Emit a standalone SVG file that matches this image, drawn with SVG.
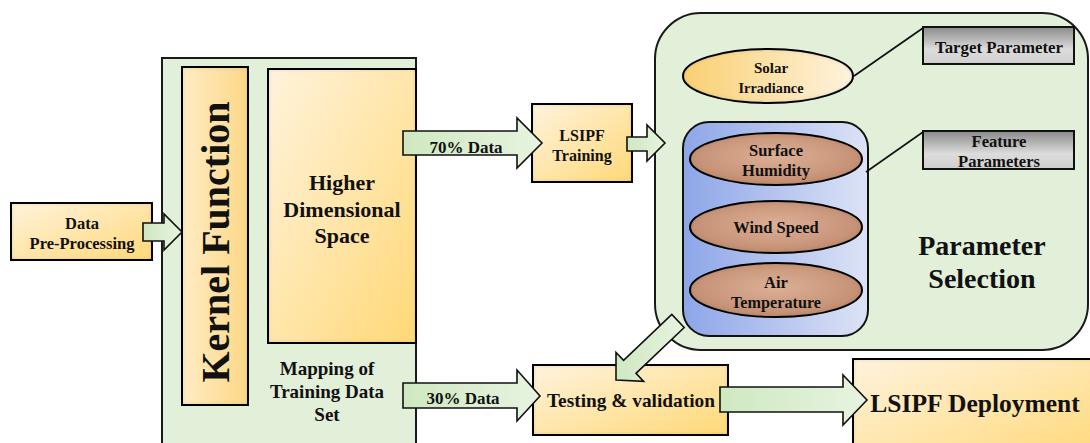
<svg xmlns="http://www.w3.org/2000/svg" width="1090" height="443" viewBox="0 0 1090 443">
  <defs>
    <style>
      .lbl { font-family: "Liberation Serif", "Times New Roman", serif; font-weight: bold; fill: #111; text-anchor: middle; dominant-baseline: central; }
      .panel { fill: #e2efd9; stroke: #1a1a1a; stroke-width: 2; }
      .box { stroke: #111; stroke-width: 2; }
      .arrow { fill: url(#gArrow); stroke: #111; stroke-width: 1.6; stroke-linejoin: miter; }
      .leader { stroke: #111; stroke-width: 1.6; fill: none; }
    </style>
    <linearGradient id="gOrange" x1="0" y1="0" x2="1" y2="1">
      <stop offset="0" stop-color="#fff3dd"/>
      <stop offset="1" stop-color="#ffd877"/>
    </linearGradient>
    <linearGradient id="gKernel" x1="0" y1="0" x2="1" y2="0">
      <stop offset="0" stop-color="#feecc4"/>
      <stop offset="1" stop-color="#fdd786"/>
    </linearGradient>
    <linearGradient id="gArrow" x1="0" y1="0" x2="1" y2="0">
      <stop offset="0" stop-color="#cfe8c1"/>
      <stop offset="1" stop-color="#e7f4e0"/>
    </linearGradient>
    <linearGradient id="gSolar" x1="0" y1="0" x2="1" y2="0">
      <stop offset="0" stop-color="#f9d072"/>
      <stop offset="1" stop-color="#fff3de"/>
    </linearGradient>
    <linearGradient id="gBlue" x1="0" y1="0" x2="1" y2="0">
      <stop offset="0" stop-color="#8da6e8"/>
      <stop offset="1" stop-color="#dde3f6"/>
    </linearGradient>
    <radialGradient id="gBrown" cx="0.5" cy="0.45" r="0.6">
      <stop offset="0" stop-color="#dcb096"/>
      <stop offset="1" stop-color="#c08a6e"/>
    </radialGradient>
    <linearGradient id="gGray" x1="0" y1="0" x2="0" y2="1">
      <stop offset="0" stop-color="#8a8a8a"/>
      <stop offset="0.6" stop-color="#dcdcdc"/>
      <stop offset="1" stop-color="#cfcfcf"/>
    </linearGradient>
    <!-- soft dark rim inside filled shapes -->
    <filter id="inset" x="-5%" y="-5%" width="110%" height="110%">
      <feFlood flood-color="#000" flood-opacity="0.55"/>
      <feComposite in2="SourceAlpha" operator="out"/>
      <feGaussianBlur stdDeviation="2.5"/>
      <feComposite in2="SourceAlpha" operator="in" result="rim"/>
      <feMerge>
        <feMergeNode in="SourceGraphic"/>
        <feMergeNode in="rim"/>
      </feMerge>
    </filter>
  </defs>

  <rect width="1090" height="443" fill="#ffffff"/>

  <!-- left mapping panel -->
  <g id="mapping-panel">
    <rect class="panel" x="162" y="58" width="254" height="400"/>
    <text class="lbl" x="327" y="368" font-size="19">Mapping of</text>
    <text class="lbl" x="327" y="391" font-size="19">Training Data</text>
    <text class="lbl" x="327" y="414" font-size="19">Set</text>
  </g>

  <!-- right parameter panel -->
  <g id="parameter-panel">
    <rect class="panel" x="655" y="13" width="433" height="337" rx="46"/>
    <text class="lbl" x="982" y="245" font-size="28">Parameter</text>
    <text class="lbl" x="982" y="278" font-size="28">Selection</text>
  </g>

  <g id="data-preprocessing">
    <rect class="box" x="11" y="203" width="141" height="57" fill="url(#gOrange)" filter="url(#inset)"/>
    <text class="lbl" x="82" y="223" font-size="16.5">Data</text>
    <text class="lbl" x="82" y="243" font-size="16.5">Pre-Processing</text>
  </g>

  <g id="kernel-function">
    <rect class="box" x="182" y="67" width="66" height="338" fill="url(#gKernel)" filter="url(#inset)"/>
    <text class="lbl" font-size="40" transform="translate(215 242) rotate(-90)">Kernel Function</text>
  </g>

  <g id="higher-dimensional-space">
    <rect class="box" x="268" y="69" width="148" height="274" fill="url(#gOrange)" filter="url(#inset)"/>
    <text class="lbl" x="342" y="182" font-size="22">Higher</text>
    <text class="lbl" x="342" y="209" font-size="22">Dimensional</text>
    <text class="lbl" x="342" y="235" font-size="22">Space</text>
  </g>

  <g id="lsipf-training">
    <rect class="box" x="532" y="104" width="100" height="78" fill="url(#gOrange)" filter="url(#inset)"/>
    <text class="lbl" x="582" y="135" font-size="16">LSIPF</text>
    <text class="lbl" x="582" y="155" font-size="16">Training</text>
  </g>

  <g id="solar-irradiance">
    <ellipse class="box" cx="768" cy="76" rx="85" ry="27" fill="url(#gSolar)" filter="url(#inset)"/>
    <text class="lbl" x="771" y="68" font-size="15">Solar</text>
    <text class="lbl" x="771" y="88" font-size="15" textLength="65" lengthAdjust="spacingAndGlyphs">Irradiance</text>
  </g>

  <g id="target-parameter">
    <rect class="box" x="923" y="27" width="151" height="37" fill="url(#gGray)"/>
    <text class="lbl" x="999" y="47" font-size="17" textLength="128" lengthAdjust="spacingAndGlyphs">Target Parameter</text>
  </g>

  <g id="feature-group">
    <rect class="box" x="683" y="122" width="185" height="214" rx="26" fill="url(#gBlue)"/>
  </g>

  <g id="surface-humidity">
    <ellipse class="box" cx="776" cy="159" rx="86" ry="26" fill="url(#gBrown)" filter="url(#inset)"/>
    <text class="lbl" x="776" y="150" font-size="16.5">Surface</text>
    <text class="lbl" x="776" y="170" font-size="16.5">Humidity</text>
  </g>

  <g id="wind-speed">
    <ellipse class="box" cx="776" cy="227" rx="86" ry="26" fill="url(#gBrown)" filter="url(#inset)"/>
    <text class="lbl" x="776" y="227" font-size="16.5">Wind Speed</text>
  </g>

  <g id="air-temperature">
    <ellipse class="box" cx="776" cy="290" rx="86" ry="27" fill="url(#gBrown)" filter="url(#inset)"/>
    <text class="lbl" x="776" y="282" font-size="16.5">Air</text>
    <text class="lbl" x="776" y="302" font-size="16.5" textLength="90" lengthAdjust="spacingAndGlyphs">Temperature</text>
  </g>

  <g id="feature-parameters">
    <rect class="box" x="923" y="131" width="151" height="38" fill="url(#gGray)"/>
    <text class="lbl" x="999" y="141" font-size="17" textLength="55" lengthAdjust="spacingAndGlyphs">Feature</text>
    <text class="lbl" x="999" y="161" font-size="17" textLength="82" lengthAdjust="spacingAndGlyphs">Parameters</text>
  </g>

  <g id="testing-validation">
    <rect class="box" x="533" y="365" width="195" height="70" fill="url(#gOrange)" filter="url(#inset)"/>
    <text class="lbl" x="631" y="400" font-size="19.5" textLength="168" lengthAdjust="spacingAndGlyphs">Testing &amp; validation</text>
  </g>

  <g id="lsipf-deployment">
    <rect class="box" x="853" y="359" width="250" height="100" fill="url(#gOrange)" filter="url(#inset)"/>
    <text class="lbl" x="975" y="403" font-size="25.5">LSIPF Deployment</text>
  </g>

  <!-- block arrows and leader lines -->
  <g id="connectors">
    <polygon class="arrow" points="143,223 164,223 164,214 182,232 164,250 164,241 143,241"/>
    <polygon class="arrow" points="403,131 517,131 517,118 542,143 517,168 517,155 403,155"/>
    <text class="lbl" x="466" y="147" font-size="17">70% Data</text>
    <polygon class="arrow" points="627,137 647,137 647,125 665,143 647,161 647,151 627,151"/>
    <polygon class="arrow" points="403,383 517,383 517,370 540,396 517,421 517,408 403,408"/>
    <text class="lbl" x="463" y="398" font-size="17">30% Data</text>
    <polygon class="arrow" points="684.2,327.5 671.8,314.5 623.6,360.4 616,352.4 616,380 643.6,381.4 636,373.4"/>
    <polygon class="arrow" points="720,387 843,387 843,375 867,400 843,425 843,412 720,412"/>
    <line class="leader" x1="854" y1="76" x2="923" y2="28"/>
    <line class="leader" x1="866" y1="172" x2="923" y2="132"/>
  </g>
</svg>
